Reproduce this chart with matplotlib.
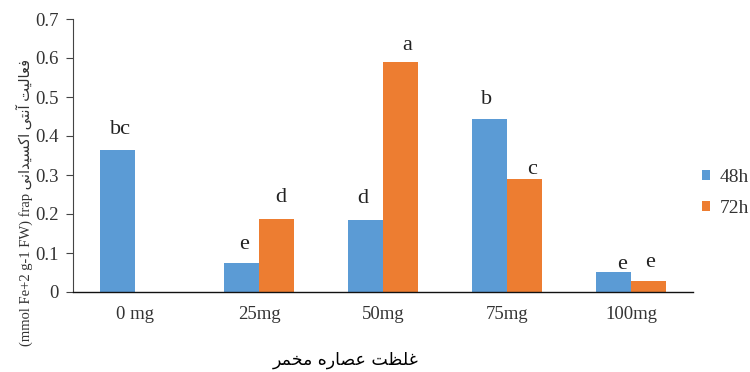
import matplotlib
matplotlib.use("Agg")
import matplotlib.pyplot as plt
import numpy as np

# concentration groups and the two sampling times
doses = ["0 mg", "25mg", "50mg", "75mg", "100mg"]
h48 = [0.364, 0.074, 0.184, 0.443, 0.051]
h72 = [0.0, 0.186, 0.590, 0.289, 0.028]
letters48 = ["bc", "e", "d", "b", "e"]
letters72 = ["", "d", "a", "c", "e"]
series_names = ["48h", "72h"]

# letter offsets above each bar, pixels (dx, dy)
off48 = [(3, 11), (3, 9), (-3, 12), (-3, 10), (9, -2)]
off72 = [(0, 0), (4, 12), (7, 7), (8, 0), (2, 9)]

# --- minimal arabic/persian shaping (matplotlib has no bidi/joining) ---
FORMS = {  # iso, fin, init, med
    "ا": ("\uFE8D", "\uFE8E", None, None),
    "آ": ("\uFE81", "\uFE82", None, None),
    "د": ("\uFEA9", "\uFEAA", None, None),
    "ر": ("\uFEAD", "\uFEAE", None, None),
    "ت": ("\uFE95", "\uFE96", "\uFE97", "\uFE98"),
    "خ": ("\uFEA5", "\uFEA6", "\uFEA7", "\uFEA8"),
    "س": ("\uFEB1", "\uFEB2", "\uFEB3", "\uFEB4"),
    "ص": ("\uFEB9", "\uFEBA", "\uFEBB", "\uFEBC"),
    "ظ": ("\uFEC5", "\uFEC6", "\uFEC7", "\uFEC8"),
    "ع": ("\uFEC9", "\uFECA", "\uFECB", "\uFECC"),
    "غ": ("\uFECD", "\uFECE", "\uFECF", "\uFED0"),
    "ف": ("\uFED1", "\uFED2", "\uFED3", "\uFED4"),
    "ل": ("\uFEDD", "\uFEDE", "\uFEDF", "\uFEE0"),
    "م": ("\uFEE1", "\uFEE2", "\uFEE3", "\uFEE4"),
    "ن": ("\uFEE5", "\uFEE6", "\uFEE7", "\uFEE8"),
    "ه": ("\uFEE9", "\uFEEA", "\uFEEB", "\uFEEC"),
    "ی": ("\uFBFC", "\uFBFD", "\uFBFE", "\uFBFF"),
    "ک": ("\uFB8E", "\uFB8F", "\uFB90", "\uFB91"),
}


def shape(s):
    out = []
    for i, ch in enumerate(s):
        if ch not in FORMS:
            out.append(ch)
            continue
        prev = s[i - 1] if i > 0 else ""
        nxt = s[i + 1] if i + 1 < len(s) else ""
        joins_prev = prev in FORMS and FORMS[prev][2] is not None
        joins_next = FORMS[ch][2] is not None and nxt in FORMS
        iso, fin, ini, med = FORMS[ch]
        if joins_prev and joins_next:
            out.append(med)
        elif joins_prev:
            out.append(fin)
        elif joins_next:
            out.append(ini)
        else:
            out.append(iso)
    return "".join(out)[::-1]


xlabel = shape("غلظت عصاره مخمر")
ylabel = "(mmol Fe+2 g-1 FW) frap " + shape("فعالیت آنتی اکسیدانی")

serif = ["Liberation Serif", "DejaVu Sans"]
plt.rcParams["font.family"] = serif

fig = plt.figure(figsize=(7.5, 3.72), dpi=100)
ax = fig.add_axes([73 / 750, 1 - 292 / 372, 620 / 750, 273 / 372])

x = np.arange(len(doses))
w = 0.282
b1 = ax.bar(x - w / 2, h48, w, color="#5B9BD5", label=series_names[0])
b2 = ax.bar(x + w / 2, h72, w, color="#ED7D31", label=series_names[1])

for bars, labs, offs in [(b1, letters48, off48), (b2, letters72, off72)]:
    for rect, lab, (dx, dy) in zip(bars, labs, offs):
        if not lab:
            continue
        ax.annotate(lab, (rect.get_x() + rect.get_width() / 2, rect.get_height()),
                    xytext=(dx, dy), textcoords="offset pixels",
                    ha="center", va="bottom", fontsize=16, color="#222222")

ax.set_xlim(-0.5, len(doses) - 0.5)
ax.set_ylim(0, 0.7)
ax.set_yticks(np.arange(0, 0.71, 0.1))
ax.set_yticklabels(["0"] + [f"{v:.1f}" for v in np.arange(0.1, 0.71, 0.1)])
ax.set_xticks(x)
ax.set_xticklabels(doses)
ax.tick_params(axis="x", length=0, pad=10, labelsize=13.5, labelcolor="#333333")
ax.tick_params(axis="y", length=5, width=0.8, direction="out", labelsize=13.5, pad=5,
               color="#444444", labelcolor="#333333")
for side in ["top", "right"]:
    ax.spines[side].set_visible(False)
ax.spines["left"].set_color("#444444")
ax.spines["bottom"].set_color("#111111")
ax.spines["bottom"].set_linewidth(1.0)

leg = ax.legend(loc="center left", bbox_to_anchor=(702 / 750, 1 - 193 / 372),
                bbox_transform=fig.transFigure, frameon=False, borderpad=0,
                borderaxespad=0, fontsize=14, handlelength=0.42, handleheight=0.42,
                handletextpad=0.5, labelspacing=0.75)
for t in leg.get_texts():
    t.set_color("#333333")

fig.text(346 / 750, 1 - 360 / 372, xlabel, ha="center", va="center",
         fontsize=12.5, family=["DejaVu Sans"])
fig.text(24 / 750, 1 - 203 / 372, ylabel, ha="center", va="center",
         rotation=90, fontsize=10.5, family=serif, color="#333333")

fig.savefig("out.png", dpi=100)
